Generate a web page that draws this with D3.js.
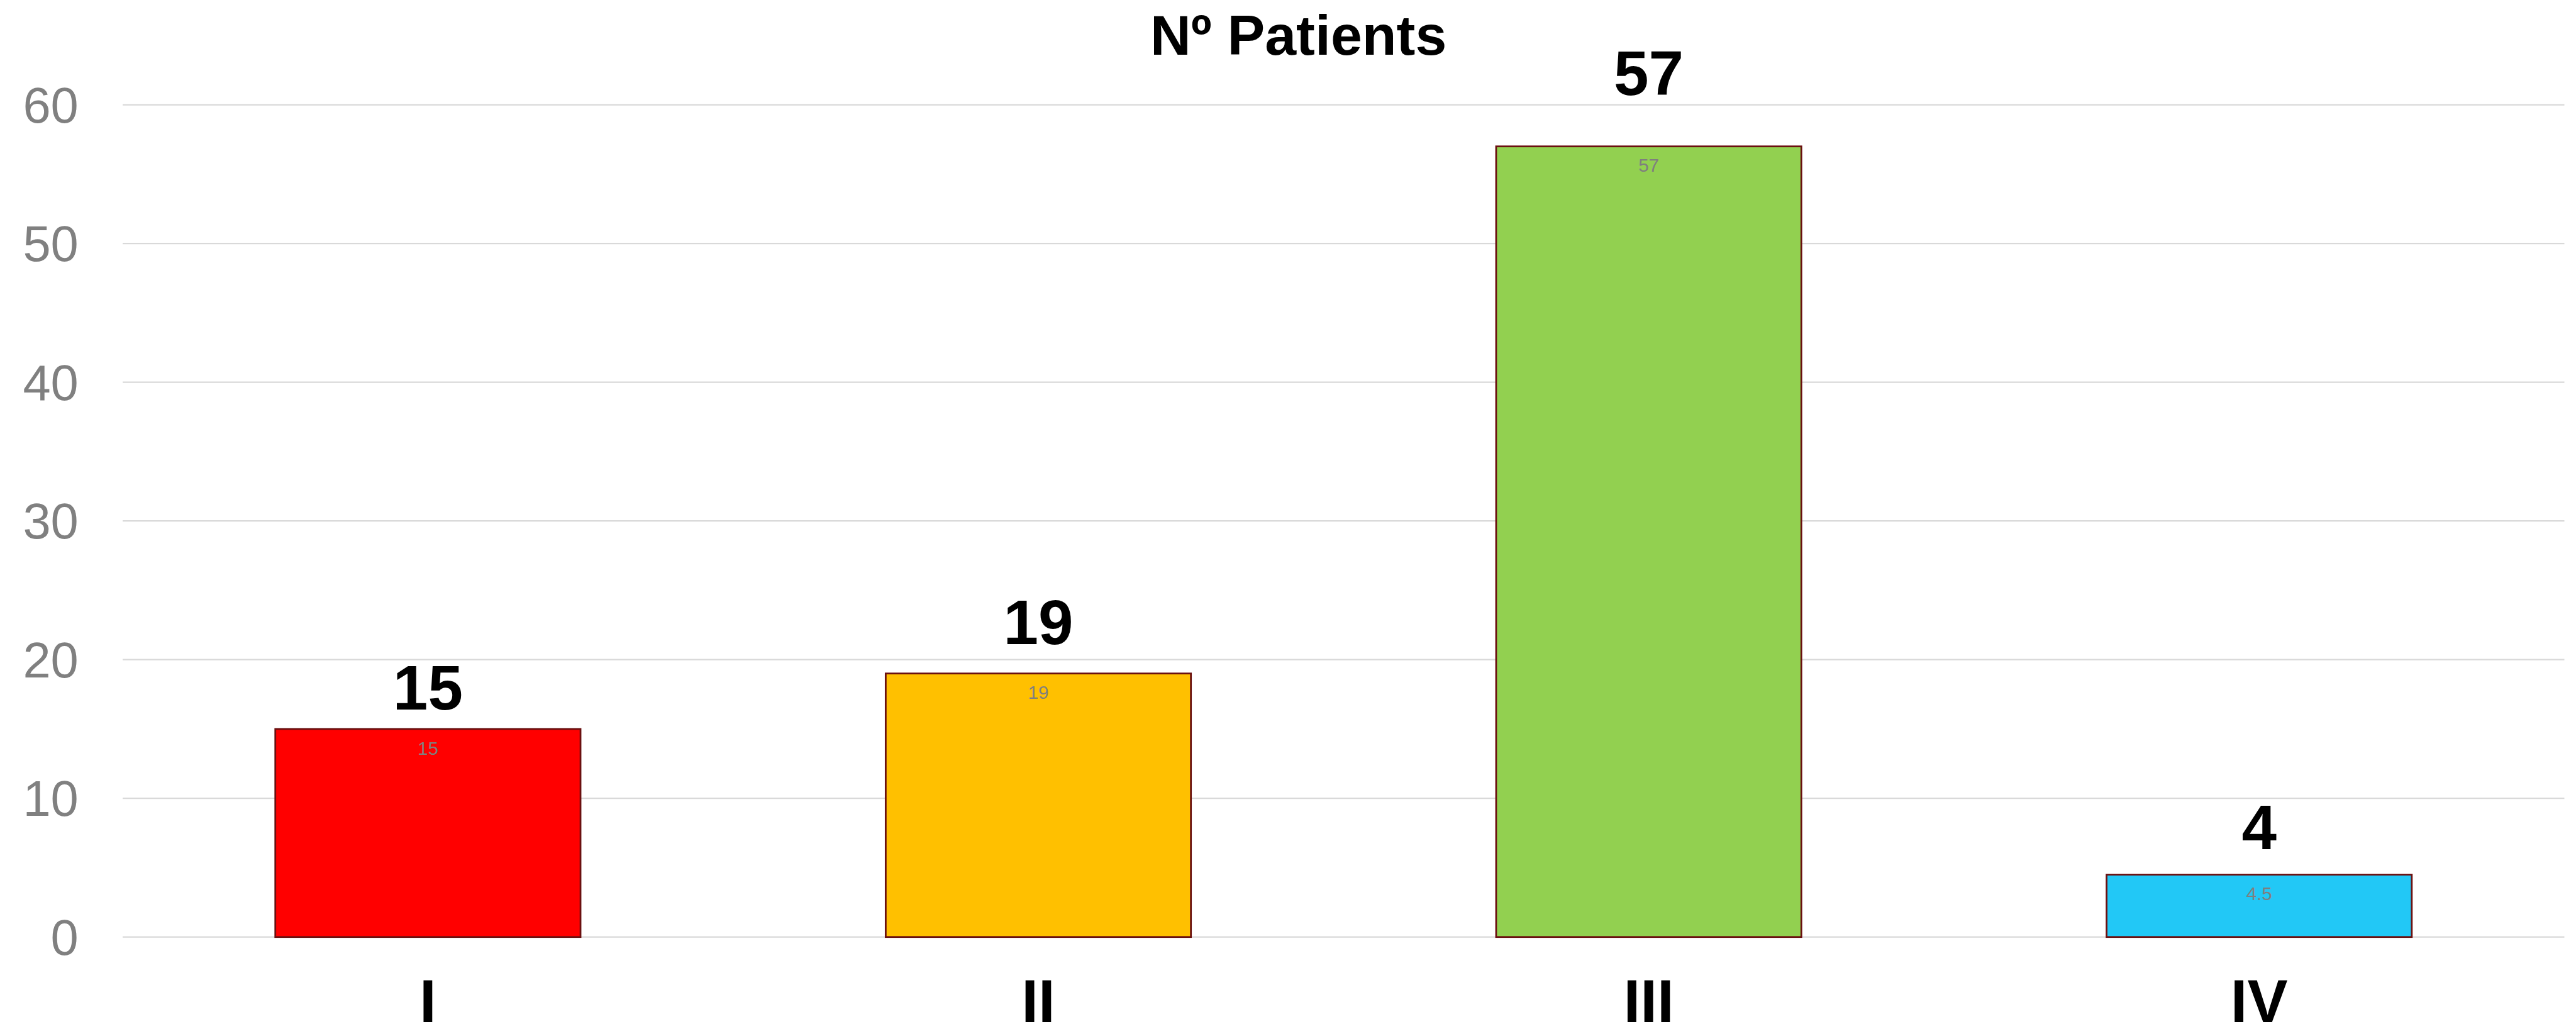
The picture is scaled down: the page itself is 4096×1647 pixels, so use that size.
<!DOCTYPE html>
<html>
<head>
<meta charset="utf-8">
<script src="https://cdn.jsdelivr.net/npm/d3@7"></script>
<style>
  html, body { margin: 0; padding: 0; background: #fff; }
  svg { display: block; }
</style>
</head>
<body>
<svg id="chart"></svg>
<script>
// Patients per stage
const stages = ["I", "II", "III", "IV"];
const barValues = [15, 19, 57, 4.5];
const headlineLabels = ["15", "19", "57", "4"];
const innerLabels = ["15", "19", "57", "4.5"];
const barColors = ["#FF0000", "#FFC000", "#92D050", "#22C8F6"];
const yTicks = [0, 10, 20, 30, 40, 50, 60];
const chartTitle = "Nº Patients";

// Drawing is laid out in a 4430 x 1781 coordinate space and scaled to the window.
const W = 4430, H = 1781;
const headlineLift = [33, 50, 88, 44];   // gap between bar top and headline baseline

const svg = d3.select("#chart")
  .attr("width", 4096)
  .attr("height", 1647)
  .attr("viewBox", `0 0 ${W} ${H}`);

const plot = { left: 211, right: 4410, top: 180, bottom: 1611 };
const font = "'Liberation Sans', Arial, sans-serif";

const x = d3.scaleBand()
  .domain(stages)
  .range([plot.left, plot.right])
  .paddingInner(0.5)
  .paddingOuter(0.25);

const y = d3.scaleLinear()
  .domain([0, 60])
  .range([plot.bottom, plot.top]);

// Horizontal gridlines
svg.append("g")
  .selectAll("line")
  .data(yTicks)
  .join("line")
  .attr("x1", plot.left)
  .attr("x2", plot.right)
  .attr("y1", d => y(d))
  .attr("y2", d => y(d))
  .attr("stroke", "#D9D9D9")
  .attr("stroke-width", 2.5);

// Y axis tick labels
const yAxis = d3.axisLeft(y).tickValues(yTicks).tickSize(0).tickPadding(0);
const yg = svg.append("g")
  .attr("transform", `translate(135,0)`)
  .call(yAxis);
yg.select(".domain").remove();
yg.selectAll("text")
  .attr("x", 0)
  .attr("dy", "0.35em")
  .attr("fill", "#808080")
  .style("font-family", font)
  .style("font-size", "86px");

// Bars
svg.append("g")
  .selectAll("rect")
  .data(stages)
  .join("rect")
  .attr("x", d => x(d))
  .attr("width", x.bandwidth())
  .attr("y", (d, i) => y(barValues[i]))
  .attr("height", (d, i) => y(0) - y(barValues[i]))
  .attr("fill", (d, i) => barColors[i])
  .attr("stroke", "#6A1010")
  .attr("stroke-width", 3);

// Small value labels inside the bar top
svg.append("g")
  .selectAll("text")
  .data(stages)
  .join("text")
  .attr("x", d => x(d) + x.bandwidth() / 2)
  .attr("y", (d, i) => y(barValues[i]) + 44)
  .attr("text-anchor", "middle")
  .attr("fill", "#7F7F7F")
  .style("font-family", font)
  .style("font-size", "32px")
  .text((d, i) => innerLabels[i]);

// Large headline counts above bars
svg.append("g")
  .selectAll("text")
  .data(stages)
  .join("text")
  .attr("x", d => x(d) + x.bandwidth() / 2)
  .attr("y", (d, i) => y(barValues[i]) - headlineLift[i])
  .attr("text-anchor", "middle")
  .attr("fill", "#000")
  .style("font-family", font)
  .style("font-weight", "bold")
  .style("font-size", "108px")
  .text((d, i) => headlineLabels[i]);

// X axis category labels
const xAxis = d3.axisBottom(x).tickSize(0).tickPadding(0);
const xg = svg.append("g")
  .attr("transform", `translate(0,1757)`)
  .call(xAxis);
xg.select(".domain").remove();
xg.selectAll("text")
  .attr("y", 0)
  .attr("dy", 0)
  .attr("fill", "#000")
  .style("font-family", font)
  .style("font-weight", "bold")
  .style("font-size", "104px");

// Title
svg.append("text")
  .attr("x", 2233)
  .attr("y", 94)
  .attr("text-anchor", "middle")
  .attr("fill", "#000")
  .style("font-family", font)
  .style("font-weight", "bold")
  .style("font-size", "97px")
  .text(chartTitle);
</script>
</body>
</html>
